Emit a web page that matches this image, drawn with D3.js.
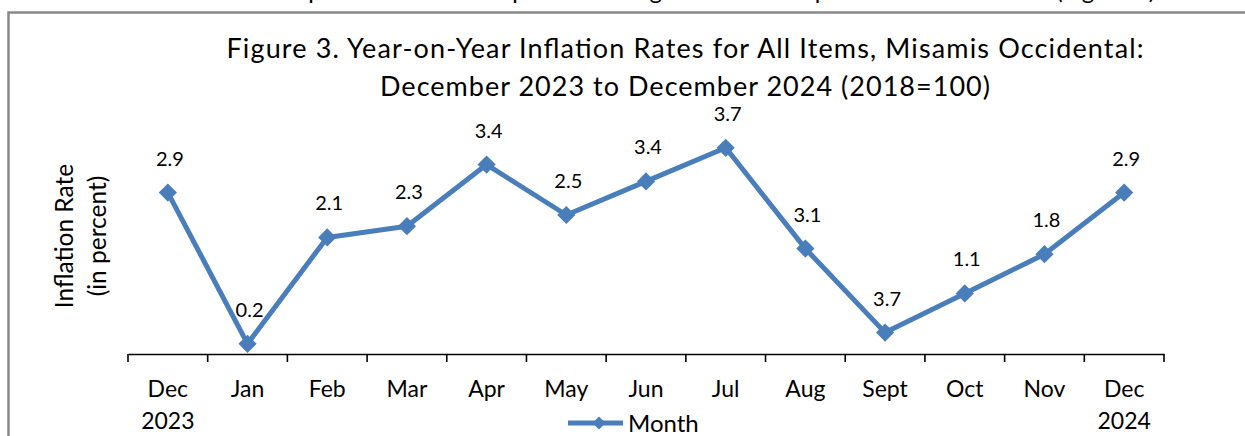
<!DOCTYPE html>
<html>
<head>
<meta charset="utf-8">
<script src="https://cdn.jsdelivr.net/npm/d3@7"></script>
<style>
  body { margin: 0; background: #fff; }
  text { font-family: Lato, "Noto Sans", sans-serif; fill: #000; }
</style>
</head>
<body>
<div id="chart-container"></div>
<script>
// Data
const months = ["Dec|2023", "Jan", "Feb", "Mar", "Apr", "May", "Jun", "Jul", "Aug", "Sept", "Oct", "Nov", "Dec|2024"];
// plotted positions of the markers
const rates = [2.9, 0.2, 2.1, 2.3, 3.4, 2.5, 3.1, 3.7, 1.9, 0.4, 1.1, 1.8, 2.9];
// data labels as printed on the chart
const rateLabels = ["2.9", "0.2", "2.1", "2.3", "3.4", "2.5", "3.4", "3.7", "3.1", "3.7", "1.1", "1.8", "2.9"];
const titleLines = ["Figure 3. Year-on-Year Inflation Rates for All Items, Misamis Occidental:",
                    "December 2023 to December 2024 (2018=100)"];
const yTitle = ["Inflation Rate", "(in percent)"];
const seriesName = "Month";

const width = 1245;
const height = 436;
const margin = { left: 128, right: 81, bottom: 82 };
const blue = "#4a7ebb";

const svg = d3.select("#chart-container").append("svg")
  .attr("width", width)
  .attr("height", height);

svg.append("rect").attr("width", width).attr("height", height).attr("fill", "#fff");

// cut-off line of body text above the box
svg.append("text")
  .attr("x", 262)
  .attr("y", -1)
  .style("font-size", "24px")
  .text("The province's inflation pattern during the reference period is shown below (Figure 3).");

// box border
svg.append("path")
  .attr("d", `M8.5,${height} V12.5 H${width}`)
  .attr("fill", "none")
  .attr("stroke", "#888")
  .attr("stroke-width", 2.5);

// Scales
const xScale = d3.scaleBand()
  .domain(months)
  .range([margin.left, width - margin.right]);

const yScale = d3.scaleLinear()
  .domain([0, 4])
  .range([355, 131]);

// x-axis
const xAxis = svg.append("g")
  .attr("transform", `translate(0,354)`)
  .call(d3.axisBottom(xScale).tickSize(0).tickFormat(""));
xAxis.select(".domain").attr("stroke", "#000").attr("stroke-width", 1.6);

// tick marks on the band edges
const edgeX = (d, i) => i < months.length ? xScale(d) : xScale(months[months.length - 1]) + xScale.bandwidth();
xAxis.selectAll(".edge")
  .data(months.concat(["end"]))
  .enter().append("line")
  .attr("class", "edge")
  .attr("x1", edgeX)
  .attr("x2", edgeX)
  .attr("y1", 0)
  .attr("y2", 8)
  .attr("stroke", "#000")
  .attr("stroke-width", 1.6);

// month labels
const lab = svg.append("g").selectAll("text")
  .data(months)
  .enter().append("text")
  .attr("text-anchor", "middle")
  .style("font-size", "23px");
lab.each(function(d) {
  const parts = d.split("|");
  const t = d3.select(this);
  parts.forEach((p, i) => {
    t.append("tspan")
      .attr("x", xScale(d) + xScale.bandwidth() / 2)
      .attr("y", 397 + i * 32)
      .text(p);
  });
});

// line
const line = d3.line()
  .x((d, i) => xScale(months[i]) + xScale.bandwidth() / 2)
  .y(d => yScale(d));

svg.append("path")
  .datum(rates)
  .attr("d", line)
  .attr("fill", "none")
  .attr("stroke", blue)
  .attr("stroke-width", 5)
  .attr("stroke-linejoin", "round");

// markers
const diamond = d3.symbol(d3.symbolSquare, 165);
svg.selectAll(".pt")
  .data(rates)
  .enter().append("path")
  .attr("class", "pt")
  .attr("d", diamond)
  .attr("fill", blue)
  .attr("transform", (d, i) => `translate(${xScale(months[i]) + xScale.bandwidth() / 2},${yScale(d)}) rotate(45)`);

// data labels
svg.selectAll(".lbl")
  .data(rates)
  .enter().append("text")
  .attr("class", "lbl")
  .attr("text-anchor", "middle")
  .attr("x", (d, i) => xScale(months[i]) + xScale.bandwidth() / 2 + 2)
  .attr("y", d => yScale(d) - 27)
  .style("font-size", "20px")
  .text((d, i) => rateLabels[i]);

// title
const titleWidths = [917, 610];
svg.append("g").selectAll("text")
  .data(titleLines)
  .enter().append("text")
  .attr("text-anchor", "middle")
  .attr("x", 685)
  .attr("y", (d, i) => 58 + i * 38)
  .attr("textLength", (d, i) => titleWidths[i])
  .attr("lengthAdjust", "spacing")
  .style("font-size", "27px")
  .text(d => d);

// y-axis title
svg.append("g").selectAll("text")
  .data(yTitle)
  .enter().append("text")
  .attr("text-anchor", "middle")
  .attr("transform", (d, i) => `translate(${73 + i * 33},236) rotate(-90)`)
  .style("font-size", "24.5px")
  .text(d => d);

// legend
const legend = svg.append("g").attr("transform", "translate(568,423)");
legend.append("line")
  .attr("x1", 0).attr("x2", 55)
  .attr("stroke", blue).attr("stroke-width", 5);
legend.append("path")
  .attr("d", d3.symbol(d3.symbolSquare, 85))
  .attr("fill", blue)
  .attr("transform", "translate(31,0) rotate(45)");
legend.append("text")
  .attr("x", 60)
  .attr("y", 9)
  .style("font-size", "24px")
  .text(seriesName);
</script>
</body>
</html>
